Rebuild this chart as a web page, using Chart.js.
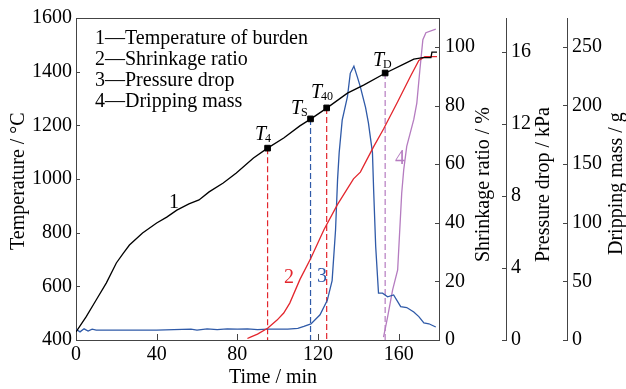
<!DOCTYPE html>
<html>
<head>
<meta charset="utf-8">
<script src="https://cdn.jsdelivr.net/npm/chart.js@4.4.1/dist/chart.umd.min.js"></script>
<style>
  html, body { margin: 0; padding: 0; background: #fff; }
  canvas { display: block; }
</style>
</head>
<body>
<canvas id="chart" width="626" height="389"></canvas>
<script>
// --- data ---
const timeTicks = [0, 40, 80, 120, 160];
const tempTicks = [400, 600, 800, 1000, 1200, 1400, 1600];
const shrinkTicks = [0, 20, 40, 60, 80, 100];
const pressTicks = [0, 4, 8, 12, 16];
const massTicks = [0, 50, 100, 150, 200, 250];

// 1 - temperature of burden (°C)
const tempTime = [0, 5, 10, 15, 20, 23.5, 26.5, 33, 40, 45, 50, 56, 61, 66, 73, 79.5, 88, 95, 103, 111, 116.5, 124.5, 134.6, 142.6, 153.5, 162.5, 167.5, 172, 176, 176.5, 179];
const tempVals = [430, 486, 549, 612, 687, 724, 754, 799, 836, 858, 884, 907, 922, 952, 985, 1022, 1078, 1115, 1153, 1198, 1224, 1265, 1320, 1350, 1395, 1428, 1447, 1452, 1452, 1473, 1473];

// 2 - shrinkage ratio (%)
const shrinkTime = [85, 86.5, 90, 95, 99.7, 103, 106, 111, 116.5, 123, 129.7, 137.6, 141, 147.6, 152.5, 159.5, 166, 170, 173, 179];
const shrinkVals = [0.5, 1, 2, 4, 6.8, 9.2, 12.6, 20.6, 28, 37.7, 46.3, 55, 57.3, 66, 72, 81.3, 90.2, 95.4, 96.7, 96.7];

// 3 - pressure drop (kPa)
const pressTime = [0, 2, 4, 6, 8, 10, 12, 20, 40, 57, 60, 65, 70, 75, 80, 85, 90, 95, 100, 105, 110,
  113, 116.5, 121, 124.6, 127, 128.7, 129.7, 130.5, 132, 134.6, 136, 137.8, 139.5, 141, 143.6, 145, 147, 147.6, 148.6, 150,
  152, 154.5, 157.5, 161, 164, 167.5, 170, 172.5, 175, 178.4];
const pressVals = [0.6, 0.45, 0.62, 0.5, 0.6, 0.55, 0.55, 0.55, 0.55, 0.6, 0.55, 0.62, 0.58, 0.62, 0.6, 0.62, 0.58, 0.6, 0.6, 0.6, 0.65,
  0.75, 0.89, 1.4, 2.2, 3.3, 6.1, 8.9, 10.4, 12.2, 13.5, 14.8, 15.2, 14.6, 14.05, 12.9, 12.05, 10.4, 8.3, 5.2, 2.6,
  2.6, 2.4, 2.5, 1.85, 1.8, 1.55, 1.3, 0.95, 0.9, 0.72];

// 4 - dripping mass (g)
const massTime = [152.5, 154.5, 157, 159.5, 161.5, 162.5, 164, 167.5, 169, 170.5, 172, 173.5, 178.4];
const massVals = [2.5, 19.6, 42.7, 59.7, 125, 145, 165, 188, 202, 230, 256, 262, 265];

// characteristic temperatures
const markNames = ['4', 'S', '40', 'D'];
const markTime = [95, 116.3, 124.3, 153.3];
const markTemp = [1115, 1224, 1265, 1395];

const legendLines = ['1\u2014Temperature of burden', '2\u2014Shrinkage ratio', '3\u2014Pressure drop', '4\u2014Dripping mass'];

// --- styles ---
const serif = "'Liberation Serif', 'Times New Roman', serif";
const axisColor = '#444';
const black = '#000';
const red = '#e3262d';
const blue = '#2f5aa8';
const purple = '#b57cc0';
const markColors = [red, blue, red, purple];

const pts = (xs, ys) => xs.map((x, i) => ({ x: x, y: ys[i] }));

const datasets = [
  {
    data: pts(markTime, markTemp), yAxisID: 'yT', showLine: false,
    pointStyle: 'rect', pointRadius: 4, pointBackgroundColor: black, pointBorderColor: black
  },
  { data: pts(tempTime, tempVals), yAxisID: 'yT', borderColor: black },
  { data: pts(shrinkTime, shrinkVals), yAxisID: 'yS', borderColor: red },
  { data: pts(pressTime, pressVals), yAxisID: 'yP', borderColor: blue },
  { data: pts(massTime, massVals), yAxisID: 'yM', borderColor: purple }
];
// dashed drop lines from each marker to the time axis
markTime.forEach((t, i) => {
  datasets.push({
    data: [{ x: t, y: markTemp[i] }, { x: t, y: 400 }],
    yAxisID: 'yT', borderColor: markColors[i], borderDash: [6, 3], borderWidth: 1.2
  });
});

const fixTicks = (list) => (scale) => { scale.ticks = list.map(v => ({ value: v })); };

function yScale(pos, min, max, list, width, pad) {
  return {
    type: 'linear', position: pos, min: min, max: max,
    afterBuildTicks: fixTicks(list),
    afterFit: (s) => { s.width = width; },
    grid: { display: false, drawTicks: false },
    border: { display: true, color: axisColor, width: 1 },
    ticks: { font: { family: serif, size: 20 }, color: black, padding: pad, callback: v => String(v) }
  };
}

// inward tick marks, frame top, titles, legend and labels
const overlay = {
  id: 'overlay',
  afterDraw(chart) {
    const { ctx, chartArea: a, scales } = chart;
    ctx.save();
    ctx.strokeStyle = axisColor;
    ctx.lineWidth = 1;
    ctx.beginPath();
    ctx.moveTo(a.left, Math.round(a.top) + 0.5);
    ctx.lineTo(a.right, Math.round(a.top) + 0.5);
    timeTicks.forEach(v => {
      const px = Math.round(scales.x.getPixelForValue(v)) + 0.5;
      ctx.moveTo(px, a.bottom);
      ctx.lineTo(px, a.bottom - 6);
    });
    const sideTicks = (scale, list, x0, dir) => {
      list.forEach(v => {
        const py = Math.round(scale.getPixelForValue(v)) + 0.5;
        ctx.moveTo(x0, py);
        ctx.lineTo(x0 + dir * 4, py);
      });
    };
    sideTicks(scales.yT, tempTicks, a.left, 1);
    sideTicks(scales.yS, shrinkTicks, scales.yS.left, -1);
    sideTicks(scales.yP, pressTicks, scales.yP.left, -1);
    sideTicks(scales.yM, massTicks, scales.yM.left, -1);
    ctx.stroke();

    ctx.fillStyle = black;
    ctx.font = '20px ' + serif;
    ctx.textBaseline = 'alphabetic';

    // x title
    ctx.textAlign = 'center';
    ctx.fillText('Time / min', 273, 383);

    // rotated y titles
    const vTitle = (text, x, bottom) => {
      ctx.save();
      ctx.translate(x, bottom);
      ctx.rotate(-Math.PI / 2);
      ctx.textAlign = 'left';
      ctx.fillText(text, 0, 0);
      ctx.restore();
    };
    vTitle('Temperature / \u00b0C', 24, 250);
    vTitle('Shrinkage ratio / %', 489, 262);
    vTitle('Pressure drop / kPa', 549, 262);
    vTitle('Dripping mass / g', 622, 255);

    // legend block
    ctx.textAlign = 'left';
    legendLines.forEach((s, i) => ctx.fillText(s, 95, 44 + i * 21));

    // curve numbers
    ctx.textAlign = 'center';
    ctx.fillStyle = black; ctx.fillText('1', 174, 208);
    ctx.fillStyle = red; ctx.fillText('2', 289, 283);
    ctx.fillStyle = blue; ctx.fillText('3', 322, 282);
    ctx.fillStyle = purple; ctx.fillText('4', 400, 164);

    // T labels next to markers
    ctx.fillStyle = black;
    ctx.textAlign = 'left';
    const tLabelPos = [[255, 140], [291, 114], [311, 98], [373, 66]];
    markNames.forEach((sub, i) => {
      const [x, y] = tLabelPos[i];
      ctx.font = 'italic 20px ' + serif;
      ctx.fillText('T', x, y);
      const w = ctx.measureText('T').width;
      ctx.font = '12px ' + serif;
      ctx.fillText(sub, x + w - 1, y + 2);
    });
    ctx.restore();
  }
};

new Chart(document.getElementById('chart'), {
  type: 'line',
  data: { datasets: datasets },
  options: {
    responsive: false,
    animation: false,
    devicePixelRatio: 1,
    layout: { padding: { top: 18, left: 0, right: 0, bottom: 0 } },
    elements: {
      line: { borderWidth: 1.3, tension: 0, fill: false },
      point: { radius: 0 }
    },
    scales: {
      x: {
        type: 'linear', position: 'bottom', min: 0, max: 180,
        afterBuildTicks: fixTicks(timeTicks),
        afterFit: (s) => { s.height = 49; },
        grid: { display: false, drawTicks: false },
        border: { display: true, color: axisColor, width: 1 },
        ticks: { font: { family: serif, size: 20 }, color: black, padding: 3, maxRotation: 0, callback: v => String(v) }
      },
      yT: yScale('left', 400, 1600, tempTicks, 76, 4),
      yS: yScale('right', 0, 109.9, shrinkTicks, 67, 6),
      yP: yScale('right', 0, 17.87, pressTicks, 61, 5),
      yM: yScale('right', 0, 274.5, massTicks, 59, 5)
    },
    plugins: {
      legend: { display: false },
      tooltip: { enabled: false }
    }
  },
  plugins: [overlay]
});
</script>
</body>
</html>
